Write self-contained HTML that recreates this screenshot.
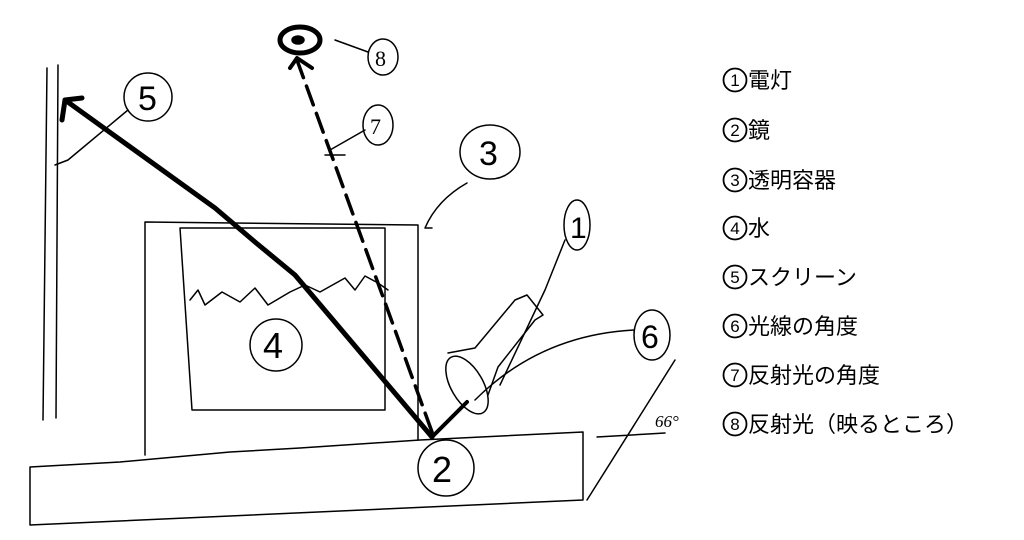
<!DOCTYPE html>
<html><head><meta charset="utf-8"><style>
body{margin:0;background:#fff;width:1024px;height:540px;overflow:hidden;position:relative}
svg{position:absolute;left:0;top:0}
.l{position:absolute;left:748px;font:22px "Noto Sans CJK JP",sans-serif;color:#000;line-height:26px;white-space:nowrap}
</style></head><body>
<svg width="1024" height="540" viewBox="0 0 1024 540" fill="none" stroke="#000" stroke-width="1.5" stroke-linecap="round" stroke-linejoin="round">
<path d="M47 68 L43 420 M58 65 L56 418"/>
<path d="M145 222 L418 225 L418 440 M145 222 L145 455 M180 228 L385 228 L385 410 L192 410 L180 228"/>
<path d="M190 300 L198 290 L205 305 L222 292 L240 302 L255 288 L268 305 L290 292 L305 285 L320 292 L345 278 L355 290 L365 276 L378 283 L388 290"/>
<path d="M30 467 L120 462 L230 452 L300 448 L420 440 L583 432 L583 500 L30 525 L30 467"/>
<path d="M675 360 L587 500 M597 437 L665 433"/>
<text x="655" y="427" font-family="Liberation Serif" font-size="17" font-style="italic" fill="#000" stroke="none">66°</text>
<path d="M432 437 L295 275 L255 242 L215 208 L65 100" stroke-width="5"/>
<path d="M62 120 L65 100 L82 98" stroke-width="5"/>
<path d="M432 432 L297 60" stroke-width="3.5" stroke-dasharray="20 9"/>
<path d="M290 68 L297 58 L312 68" stroke-width="4"/>
<path d="M432 437 L467 402" stroke-width="4"/>
<ellipse cx="300" cy="40" rx="20" ry="13" stroke-width="5"/>
<ellipse cx="298" cy="40" rx="6" ry="4" fill="#000"/>
<ellipse cx="467" cy="385" rx="16" ry="32" transform="rotate(-30 467 385)"/>
<path d="M448 353 L475 348 L515 300 L527 295 L543 315 L535 320 L498 367 L488 395"/>
<ellipse cx="383" cy="57" rx="15" ry="18"/><text x="375" y="66" font-size="22" font-family="Liberation Serif" fill="#000" stroke="none">8</text>
<path d="M368 52 L335 40"/>
<ellipse cx="378" cy="125" rx="15" ry="20"/><text x="370" y="134" font-size="22" font-family="Liberation Serif" fill="#000" stroke="none">7</text>
<path d="M365 130 L330 150 M325 155 L345 155"/>
<ellipse cx="148" cy="97" rx="24" ry="24"/><text x="138" y="110" font-size="34" font-family="Liberation Sans" fill="#000" stroke="none">5</text>
<path d="M128 110 L68 160 L55 165"/>
<ellipse cx="490" cy="152" rx="30" ry="27"/><text x="479" y="165" font-size="34" font-family="Liberation Sans" fill="#000" stroke="none">3</text>
<path d="M467 183 Q437 200 425 228 L432 228"/>
<ellipse cx="276" cy="345" rx="26" ry="26"/><text x="263" y="358" font-size="36" font-family="Liberation Sans" fill="#000" stroke="none">4</text>
<ellipse cx="446" cy="468" rx="28" ry="28"/><text x="432" y="482" font-size="36" font-family="Liberation Sans" fill="#000" stroke="none">2</text>
<ellipse cx="577" cy="225" rx="13" ry="25"/><text x="570" y="238" font-size="30" font-family="Liberation Sans" fill="#000" stroke="none">1</text>
<path d="M565 240 L545 290 L500 385"/>
<ellipse cx="652" cy="335" rx="18" ry="25"/><text x="641" y="348" font-size="32" font-family="Liberation Sans" fill="#000" stroke="none">6</text>
<path d="M634 330 Q540 335 475 400"/>
<g stroke-width="1.8" font-family="Liberation Sans" font-size="17" text-anchor="middle">
<circle cx="735" cy="80" r="11.5"/><text x="735" y="86" fill="#000" stroke="none">1</text>
<circle cx="735" cy="130" r="11.5"/><text x="735" y="136" fill="#000" stroke="none">2</text>
<circle cx="735" cy="180" r="11.5"/><text x="735" y="186" fill="#000" stroke="none">3</text>
<circle cx="735" cy="228" r="11.5"/><text x="735" y="234" fill="#000" stroke="none">4</text>
<circle cx="735" cy="277" r="11.5"/><text x="735" y="283" fill="#000" stroke="none">5</text>
<circle cx="735" cy="326" r="11.5"/><text x="735" y="332" fill="#000" stroke="none">6</text>
<circle cx="735" cy="375" r="11.5"/><text x="735" y="381" fill="#000" stroke="none">7</text>
<circle cx="735" cy="424" r="11.5"/><text x="735" y="430" fill="#000" stroke="none">8</text>
</g>
</svg>
<div class="l" style="top:66px">電灯</div>
<div class="l" style="top:116px">鏡</div>
<div class="l" style="top:166px">透明容器</div>
<div class="l" style="top:214px">水</div>
<div class="l" style="top:263px">スクリーン</div>
<div class="l" style="top:312px">光線の角度</div>
<div class="l" style="top:361px">反射光の角度</div>
<div class="l" style="top:410px">反射光（映るところ）</div>
</body></html>
